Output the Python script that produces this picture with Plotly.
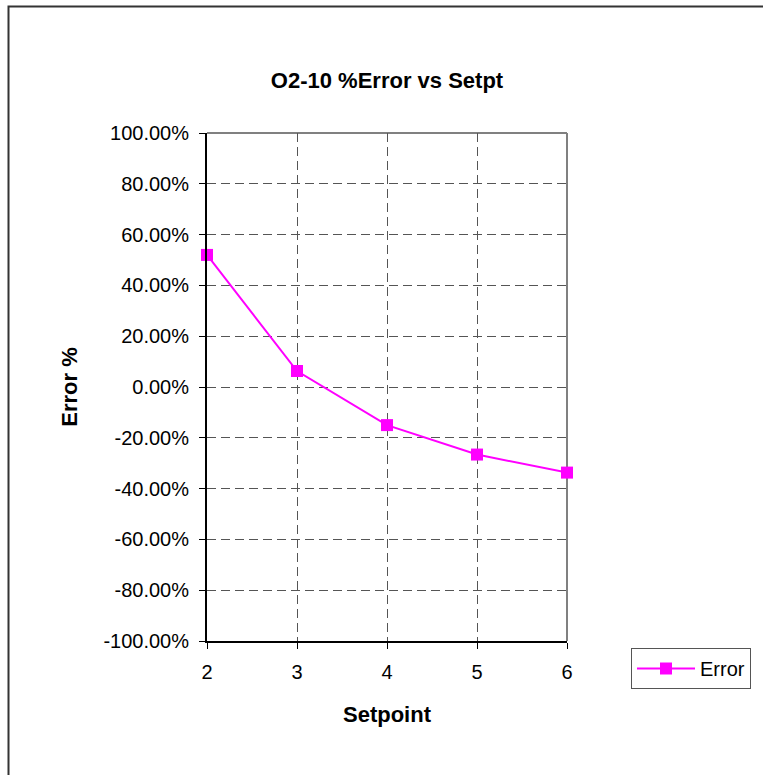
import plotly.graph_objects as go

setpoints = [2, 3, 4, 5, 6]
error_pct = [0.52, 0.063, -0.15, -0.266, -0.337]
y_ticks = [-1.0, -0.8, -0.6, -0.4, -0.2, 0.0, 0.2, 0.4, 0.6, 0.8, 1.0]
y_tick_labels = ["-100.00%", "-80.00%", "-60.00%", "-40.00%", "-20.00%", "0.00%",
                 "20.00%", "40.00%", "60.00%", "80.00%", "100.00%"]
x_ticks = [2, 3, 4, 5, 6]

W, H = 763, 775
L, R, T, B = 207, 567, 133, 641  # plot area in px

FONT = "Liberation Sans, Arial, sans-serif"

fig = go.Figure()
fig.add_trace(go.Scatter(
    x=setpoints, y=error_pct, name="Error", mode="lines+markers",
    line=dict(color="#FF00FF", width=2),
    marker=dict(symbol="square", size=12, color="#FF00FF"),
    cliponaxis=False,
))

def px_x(px):
    return (px - L) / (R - L)

def px_y(py):
    return (B - py) / (B - T)

fig.update_layout(
    width=W, height=H,
    margin=dict(l=L, r=W - R, t=T, b=H - B, pad=0),
    paper_bgcolor="white", plot_bgcolor="white",
    font=dict(family=FONT, size=20, color="black"),
    title=dict(text="<b>O2-10 %Error vs Setpt</b>", x=0.5, xref="paper",
               y=(H - 80) / H, yref="container", yanchor="middle", xanchor="center",
               font=dict(size=22, family=FONT, color="black")),
    showlegend=True,
    legend=dict(x=px_x(631), y=px_y(648), xanchor="left", yanchor="top",
                bordercolor="#555555", borderwidth=1, bgcolor="white",
                font=dict(size=20, family=FONT, color="black"),
                itemwidth=58),
    xaxis=dict(range=[2, 6], tickvals=x_ticks, ticks="outside", ticklen=6,
               tickcolor="black", showline=True, linecolor="black", linewidth=2,
               showgrid=True, gridcolor="#555555", gridwidth=1, griddash="9px,5px",
               zeroline=False, tickfont=dict(size=20), ticklabelstandoff=6,
               title=dict(text="<b>Setpoint</b>", font=dict(size=22), standoff=25),
               automargin=False),
    yaxis=dict(range=[-1, 1], tickvals=y_ticks, ticktext=y_tick_labels,
               ticks="outside", ticklen=6, tickcolor="black",
               showline=True, linecolor="black", linewidth=2,
               showgrid=True, gridcolor="#555555", gridwidth=1, griddash="9px,5px",
               zeroline=False, tickfont=dict(size=20), ticklabelstandoff=6,
               title=dict(text="<b>Error %</b>", font=dict(size=22), standoff=20),
               automargin=False),
    shapes=[
        # plot-area top and right border (gray)
        dict(type="line", xref="paper", yref="paper", x0=0, x1=1, y0=1, y1=1,
             line=dict(color="#808080", width=2), layer="below"),
        dict(type="line", xref="paper", yref="paper", x0=1, x1=1, y0=0, y1=1,
             line=dict(color="#808080", width=2), layer="below"),
        # chart outer border (left and top visible, extends off canvas)
        dict(type="rect", xref="paper", yref="paper",
             x0=px_x(8.5), x1=px_x(800), y0=px_y(800), y1=px_y(6.5),
             line=dict(color="#333333", width=2), layer="above"),
    ],
)

fig.write_html("out.html")
